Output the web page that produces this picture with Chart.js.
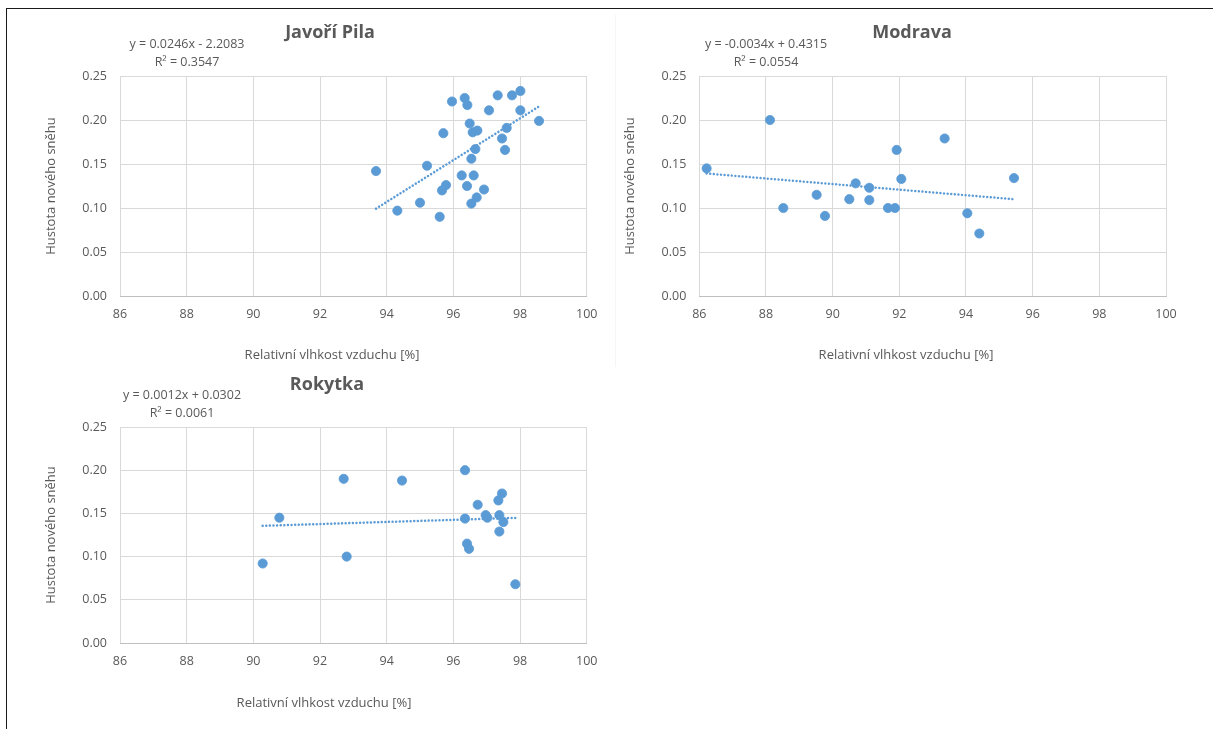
<!DOCTYPE html>
<html>
<head>
<meta charset="utf-8">
<script src="https://cdn.jsdelivr.net/npm/chart.js@4.4.1/dist/chart.umd.min.js"></script>
<style>
  html, body { margin: 0; padding: 0; background: #fff; }
  body { width: 1213px; height: 729px; position: relative; overflow: hidden; }
  canvas { position: absolute; left: 0; top: 0; }
  #frameTop { position: absolute; left: 6px; top: 8px; width: 1207px; height: 1px; background: #1a1a1a; }
  #frameLeft { position: absolute; left: 6px; top: 8px; width: 1px; height: 721px; background: #1a1a1a; }
  #divider { position: absolute; left: 615px; top: 15px; width: 1px; height: 352px; background: #f5f5f5; }
</style>
</head>
<body>
<div id="frameTop"></div>
<div id="frameLeft"></div>
<div id="divider"></div>
<canvas id="javori" width="1213" height="729"></canvas>
<canvas id="modrava" width="1213" height="729"></canvas>
<canvas id="rokytka" width="1213" height="729"></canvas>
<script>
// Hustota nového sněhu vs. relativní vlhkost vzduchu

// Javoří Pila
let javoriX = [93.68, 94.32, 95.00, 95.21, 95.59, 95.66, 95.78, 95.70, 95.96, 96.34, 96.42,
               96.25, 96.61, 96.41, 96.54, 96.70, 96.92, 96.54, 96.66, 96.49, 96.58, 96.72,
               97.07, 97.33, 97.76, 98.01, 98.01, 97.60, 97.46, 97.55, 98.57];
let javoriY = [0.142, 0.097, 0.106, 0.148, 0.090, 0.120, 0.126, 0.185, 0.221, 0.225, 0.217,
               0.137, 0.137, 0.125, 0.105, 0.112, 0.121, 0.156, 0.167, 0.196, 0.186, 0.188,
               0.211, 0.228, 0.228, 0.233, 0.211, 0.191, 0.179, 0.166, 0.199];

// Modrava
let modravaX = [86.22, 88.12, 88.52, 89.52, 89.77, 90.50, 90.69, 91.10, 91.10, 91.66, 91.87,
                91.92, 92.06, 93.36, 94.04, 94.40, 95.44];
let modravaY = [0.145, 0.200, 0.100, 0.115, 0.091, 0.110, 0.128, 0.123, 0.109, 0.100, 0.100,
                0.166, 0.133, 0.179, 0.094, 0.071, 0.134];

// Rokytka
let rokytkaX = [90.28, 90.78, 92.71, 92.80, 94.46, 96.35, 96.35, 96.41, 96.47, 96.73, 96.97,
                97.02, 97.35, 97.46, 97.38, 97.50, 97.38, 97.86];
let rokytkaY = [0.092, 0.145, 0.190, 0.100, 0.188, 0.200, 0.144, 0.115, 0.109, 0.160, 0.148,
                0.145, 0.165, 0.173, 0.148, 0.140, 0.129, 0.068];

// Popisky
let chartTitles = ['Javoří Pila', 'Modrava', 'Rokytka'];
let trendLabels = [
  ['y = 0.0246x - 2.2083', 'R² = 0.3547'],
  ['y = -0.0034x + 0.4315', 'R² = 0.0554'],
  ['y = 0.0012x + 0.0302', 'R² = 0.0061']
];
let xAxisTitle = 'Relativní vlhkost vzduchu [%]';
let yAxisTitle = 'Hustota nového sněhu';
let xRange = [86, 100, 2];
let yRange = [0, 0.25, 0.05];

let
  textColor = '#595959',
  gridColor = '#d9d9d9',
  pointColor = '#5b9bd5',
  fontName = '"Open Sans", sans-serif';

// Lineární trend (nejmenší čtverce) přes rozsah dat
function trend(xs, ys) {
  let n = xs.length,
      mx = xs.reduce((a, b) => a + b, 0) / n,
      my = ys.reduce((a, b) => a + b, 0) / n,
      sxy = 0, sxx = 0;
  for (let i = 0; i < n; i++) {
    sxy += (xs[i] - mx) * (ys[i] - my);
    sxx += (xs[i] - mx) * (xs[i] - mx);
  }
  let b = sxy / sxx, a = my - b * mx,
      x0 = Math.min(...xs), x1 = Math.max(...xs);
  return [{x: x0, y: a + b * x0}, {x: x1, y: a + b * x1}];
}

// Titulek, rovnice trendu a popis osy x
const textPlugin = {
  id: 'chartTexts',
  afterDraw(chart, args, o) {
    const ctx = chart.ctx;
    ctx.save();
    ctx.fillStyle = textColor;
    ctx.textAlign = 'center';
    ctx.textBaseline = 'middle';
    ctx.font = 'bold 18px ' + fontName;
    ctx.fillText(o.title, o.titleX, o.titleY);
    ctx.font = '12.5px ' + fontName;
    ctx.fillText(o.eq[0], o.eqX, o.eqY);
    ctx.fillText(o.eq[1], o.eqX, o.eqY + 18);
    ctx.font = '13px ' + fontName;
    ctx.fillText(o.xTitle, o.xTitleX, o.xTitleY);
    ctx.restore();
  }
};

function makeChart(id, xs, ys, idx, box, pos) {
  let data = xs.map((x, i) => ({x: x, y: ys[i]}));
  return new Chart(document.getElementById(id), {
    type: 'scatter',
    data: {
      datasets: [
        {
          data: trend(xs, ys),
          showLine: true,
          borderColor: pointColor,
          borderWidth: 2.5,
          borderDash: [0.01, 3.6],
          borderCapStyle: 'round',
          pointRadius: 0,
          fill: false
        },
        {
          data: data,
          backgroundColor: pointColor,
          borderColor: pointColor,
          borderWidth: 0.8,
          pointRadius: 4.6
        }
      ]
    },
    options: {
      responsive: false,
      animation: false,
      devicePixelRatio: 1,
      events: [],
      layout: {
        padding: {left: box.l - 100, right: 1213 - box.r, top: box.t, bottom: 729 - box.b - 30}
      },
      plugins: {
        legend: {display: false},
        tooltip: {enabled: false},
        chartTexts: {
          title: chartTitles[idx], titleX: pos.tx, titleY: pos.ty,
          eq: trendLabels[idx], eqX: pos.ex, eqY: pos.ey,
          xTitle: xAxisTitle, xTitleX: pos.ax, xTitleY: pos.ay
        }
      },
      scales: {
        x: {
          type: 'linear',
          min: xRange[0], max: xRange[1],
          afterFit: s => { s.height = 30; },
          ticks: {stepSize: xRange[2], color: textColor, padding: 11, maxRotation: 0,
                  font: {family: fontName, size: 12.5}},
          grid: {color: gridColor, drawTicks: false},
          border: {color: '#bfbfbf'}
        },
        y: {
          type: 'linear',
          min: yRange[0], max: yRange[1],
          afterFit: s => { s.width = 100; },
          ticks: {stepSize: yRange[2], color: textColor, padding: 13,
                  callback: v => v.toFixed(2),
                  font: {family: fontName, size: 12.5}},
          grid: {color: gridColor, drawTicks: false},
          border: {display: false},
          title: {display: true, text: yAxisTitle, color: textColor, padding: {top: 23.5, bottom: 0},
                  font: {family: fontName, size: 13}}
        }
      }
    },
    plugins: [textPlugin]
  });
}

makeChart('javori', javoriX, javoriY, 0,
  {l: 120, r: 586.7, t: 76, b: 296},
  {tx: 330, ty: 33, ex: 187, ey: 44, ax: 332, ay: 355});
makeChart('modrava', modravaX, modravaY, 1,
  {l: 699.3, r: 1166, t: 76, b: 296},
  {tx: 912, ty: 33, ex: 766, ey: 44, ax: 906, ay: 355});
makeChart('rokytka', rokytkaX, rokytkaY, 2,
  {l: 120, r: 586.7, t: 427, b: 643},
  {tx: 327, ty: 385, ex: 182, ey: 395, ax: 324, ay: 703});
</script>
</body>
</html>
